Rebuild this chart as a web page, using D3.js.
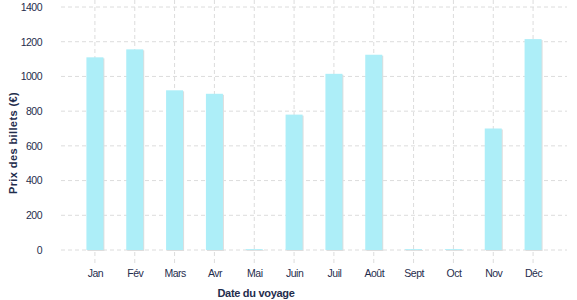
<!DOCTYPE html>
<html><head><meta charset="utf-8">
<script src="https://cdn.jsdelivr.net/npm/d3@7"></script>
<style>body{margin:0;background:#fff;}svg{display:block;font-family:"Liberation Sans",Arial,sans-serif;}</style>
</head><body>
<svg id="c" width="577" height="300"></svg>
<script>
const months = ["Jan","Fév","Mars","Avr","Mai","Juin","Juil","Août","Sept","Oct","Nov","Déc"];
const prices = [1110,1156,920,900,5,780,1015,1125,5,5,700,1215];
const yTicks = [0,200,400,600,800,1000,1200,1400];

const svg = d3.select("#c");
const x = d3.scalePoint().domain(months).range([75,553]).padding(0.5);
const y = d3.scaleLinear().domain([0,1400]).range([250,7]);
const bw = 17;
const textCol = "#1f2d4d";
const gridCol = "#dcdcdc";

// horizontal grid
svg.append("g").selectAll("line").data(yTicks).join("line")
  .attr("x1",61).attr("x2",567).attr("y1",d=>y(d)).attr("y2",d=>y(d))
  .attr("stroke",gridCol).attr("stroke-dasharray","4,3");
// vertical grid
svg.append("g").selectAll("line").data(months).join("line")
  .attr("x1",d=>x(d)).attr("x2",d=>x(d)).attr("y1",0).attr("y2",264)
  .attr("stroke",gridCol).attr("stroke-dasharray","4,3");

// bar shadows
svg.append("g").selectAll("rect").data(months).join("rect")
  .attr("x",d=>x(d)-bw/2+1).attr("y",(d,i)=>y(prices[i])+1)
  .attr("width",bw).attr("height",(d,i)=>y(0)-y(prices[i]))
  .attr("fill","#dddddd");
// bars
svg.append("g").selectAll("rect").data(months).join("rect")
  .attr("x",d=>x(d)-bw/2).attr("y",(d,i)=>y(prices[i]))
  .attr("width",bw).attr("height",(d,i)=>y(0)-y(prices[i]))
  .attr("fill","#adeef8");

// y axis
const ya = svg.append("g").attr("transform","translate(42,0)")
  .call(d3.axisLeft(y).tickValues(yTicks).tickSize(0).tickPadding(0).tickFormat(d3.format("d")));
ya.select(".domain").remove();
ya.selectAll("text").attr("fill",textCol).style("font-size","10.5px").attr("letter-spacing","-0.5px");

// x axis
const xa = svg.append("g").attr("transform","translate(0,270)")
  .call(d3.axisBottom(x).tickSize(0).tickPadding(0));
xa.select(".domain").remove();
xa.selectAll("text").attr("fill",textCol).style("font-size","10.5px").attr("letter-spacing","-0.5px");

// titles
svg.append("text").attr("x",256).attr("y",297).attr("text-anchor","middle")
  .attr("fill",textCol).style("font-size","11px").style("font-weight","bold")
  .attr("letter-spacing","-0.3px").text("Date du voyage");
svg.append("text").attr("transform","translate(17,143) rotate(-90)").attr("text-anchor","middle")
  .attr("fill",textCol).style("font-size","11px").style("font-weight","bold")
  .attr("letter-spacing","0.4px").text("Prix des billets (€)");
</script>
</body></html>
